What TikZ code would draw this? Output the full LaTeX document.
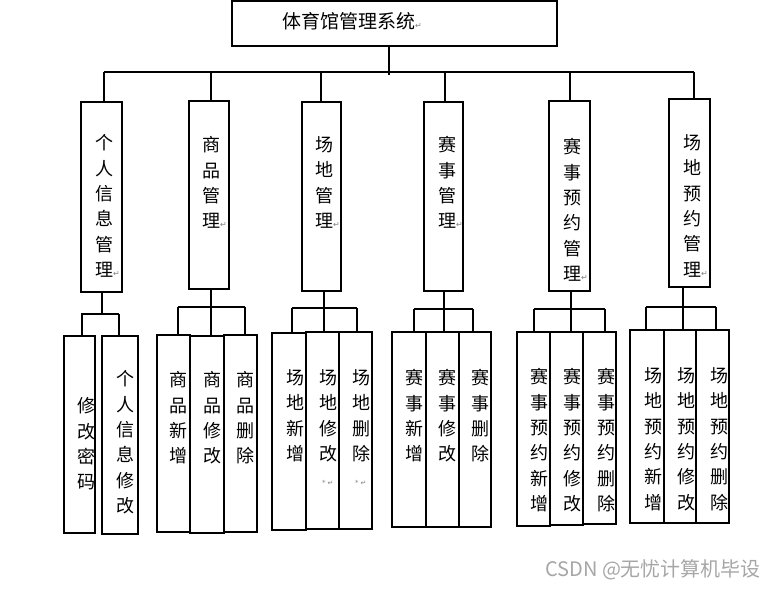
\documentclass[tikz,border=0pt]{standalone}
\usepackage{fontspec}
\newfontfamily\cjk{Noto Sans CJK SC}
\newfontfamily\dejavu{DejaVu Sans}
\usetikzlibrary{calc}
\tikzset{
  box/.style={draw, line width=1.1pt, rectangle, inner sep=0pt},
  link/.style={line width=1.1pt},
  vtext/.style={font=\cjk\fontsize{18}{25.3}\selectfont, align=left, inner sep=0pt, anchor=north west},
}
\newcommand\parmark{{\dejavu\fontsize{8}{8}\selectfont\color{gray}↵}}
\newcommand\starmark{{\hspace{3pt}\dejavu\fontsize{7}{7}\selectfont\color{gray}*\hspace{2pt}↵}}
\newcommand\bx[5]{\node[box, minimum width={#4-#2}, minimum height={#5-#3}] (#1) at ({(#2+#4)/2},{(#3+#5)/2}) {};}
\newcommand\vt[4]{\node[vtext] (#1) at ({#2-9},{#3-8.5}) {#4};}
\newcommand\drop[3]{\path ([xshift=#2pt]#1.north) coordinate (#1-t); \draw[link] (#1-t) -- (#1-t |- #3);}
\newcommand\stem[3]{\path ([xshift=#2pt]#1.south) coordinate (#1-b); \draw[link] (#1-b) -- (#1-b |- #3);}
\begin{document}
\begin{tikzpicture}[x=1pt,y=-1pt]
\useasboundingbox (0,0) rectangle (772,589);
% title
\bx{title}{232}{1}{557}{46}
\node[font=\cjk\fontsize{19}{19}\selectfont, anchor=west, inner sep=0pt] (tt) at (282,21) {体育馆管理系统\parmark};
% bus
\coordinate (busL) at (104,72);
\coordinate (busR) at (694,72);
\draw[link] (busL) -- (busR);
\path ([xshift=-5.5pt]title.south) coordinate (title-b);
\draw[link] (title-b) -- ($(title-b |- busL)+(0,3)$);
% middle boxes
\bx{m1}{81}{102}{122}{292}
\bx{m2}{189}{101}{229}{289}
\bx{m3}{302}{102}{341}{291}
\bx{m4}{424}{102}{463}{291}
\bx{m5}{549}{101}{590}{291}
\bx{m6}{669}{99}{710}{287}
\vt{tm1}{104}{143}{个\\人\\信\\息\\管\\理\parmark}
\vt{tm2}{211}{145}{商\\品\\管\\理\parmark}
\vt{tm3}{324}{145}{场\\地\\管\\理\parmark}
\vt{tm4}{447}{145}{赛\\事\\管\\理\parmark}
\vt{tm5}{572}{147}{赛\\事\\预\\约\\管\\理\parmark}
\vt{tm6}{692}{143}{场\\地\\预\\约\\管\\理\parmark}
\drop{m1}{2.5}{busL}
\drop{m2}{2}{busL}
\drop{m3}{-0.5}{busL}
\drop{m4}{1.5}{busL}
\drop{m5}{0.5}{busL}
\drop{m6}{4.5}{busL}
% leaf boxes
\bx{a1}{64}{336}{95}{533}
\bx{a2}{102}{336}{138}{534}
\bx{b1}{157}{335}{190}{532}
\bx{b2}{190}{336}{224}{533}
\bx{b3}{224}{335}{257}{532}
\bx{c1}{272}{333}{306}{530}
\bx{c2}{306}{332}{339}{529}
\bx{c3}{339}{332}{372}{529}
\bx{d1}{392}{332}{426}{527}
\bx{d2}{426}{332}{459}{527}
\bx{d3}{459}{332}{491}{527}
\bx{e1}{517}{332}{550}{526}
\bx{e2}{550}{332}{583}{525}
\bx{e3}{583}{332}{616}{524}
\bx{f1}{630}{330}{664}{523}
\bx{f2}{664}{330}{696}{523}
\bx{f3}{696}{330}{729}{523}
% leaf texts
\vt{ta1}{86}{406}{修\\改\\密\\码}
\vt{ta2}{125}{379}{个\\人\\信\\息\\修\\改}
\vt{tb1}{178}{380}{商\\品\\新\\增}
\vt{tb2}{212}{380}{商\\品\\修\\改}
\vt{tb3}{245}{380}{商\\品\\删\\除}
\vt{tc1}{295}{378}{场\\地\\新\\增}
\vt{tc2}{328}{378}{场\\地\\修\\改\\\starmark}
\vt{tc3}{361}{378}{场\\地\\删\\除\\\starmark}
\vt{td1}{414}{378}{赛\\事\\新\\增}
\vt{td2}{447}{378}{赛\\事\\修\\改}
\vt{td3}{480}{378}{赛\\事\\删\\除}
\vt{te1}{539}{377}{赛\\事\\预\\约\\新\\增}
\vt{te2}{572}{377}{赛\\事\\预\\约\\修\\改}
\vt{te3}{606}{377}{赛\\事\\预\\约\\删\\除}
\vt{tf1}{653}{376}{场\\地\\预\\约\\新\\增}
\vt{tf2}{686}{376}{场\\地\\预\\约\\修\\改}
\vt{tf3}{719}{376}{场\\地\\预\\约\\删\\除}
% group bars
\coordinate (g1L) at (81,314);  \coordinate (g1R) at (119,314);
\coordinate (g2L) at (178,307); \coordinate (g2R) at (245,307);
\coordinate (g3L) at (292,308); \coordinate (g3R) at (357,308);
\coordinate (g4L) at (414,309); \coordinate (g4R) at (473,309);
\coordinate (g5L) at (534,309); \coordinate (g5R) at (605,309);
\coordinate (g6L) at (646,307); \coordinate (g6R) at (716,307);
\draw[link] (g1L) -- (g1R);
\draw[link] (g2L) -- (g2R);
\draw[link] (g3L) -- (g3R);
\draw[link] (g4L) -- (g4R);
\draw[link] (g5L) -- (g5R);
\draw[link] (g6L) -- (g6R);
\stem{m1}{0.5}{g1L}
\stem{m2}{2}{g2L}
\stem{m3}{2.5}{g3L}
\stem{m4}{0.5}{g4L}
\stem{m5}{1.5}{g5L}
\stem{m6}{-6.5}{g6L}
\drop{a1}{2.5}{g1L}
\drop{a2}{-1}{g1L}
\drop{b1}{4.5}{g2L}
\drop{b2}{4}{g2L}
\drop{b3}{4.5}{g2L}
\drop{c1}{3}{g3L}
\drop{c2}{1.5}{g3L}
\drop{c3}{1.5}{g3L}
\drop{d1}{5}{g4L}
\drop{d2}{1.5}{g4L}
\drop{d3}{-2}{g4L}
\drop{e1}{0.5}{g5L}
\drop{e2}{4.5}{g5L}
\drop{e3}{5.5}{g5L}
\drop{f1}{-1}{g6L}
\drop{f2}{3}{g6L}
\drop{f3}{3.5}{g6L}
% watermark
\node[font=\cjk\fontsize{20}{20}\selectfont, text=gray!70, anchor=west, inner sep=0pt] (wm) at (545,570) {CSDN @无忧计算机毕设};
\end{tikzpicture}
\end{document}
